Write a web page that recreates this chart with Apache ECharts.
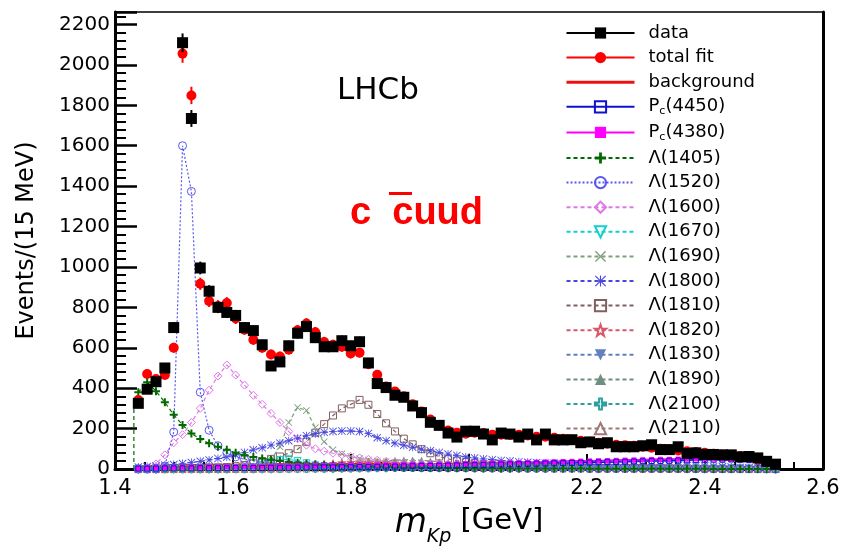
<!DOCTYPE html>
<html>
<head>
<meta charset="utf-8">
<title>m(Kp) fit components</title>
<script src="https://cdn.jsdelivr.net/npm/echarts@6/dist/echarts.min.js"></script>
<style>
  html, body { margin: 0; padding: 0; background: #fff; }
  #chart { width: 844px; height: 552px; }
</style>
</head>
<body>
<div id="chart"></div>
<script>
// Binning: 15 MeV bins starting at the K p threshold
const threshold = 1.432;
const binWidth = 0.015;

// Events per bin
const dataEvents = [325,395,432,500,700,2110,1735,995,880,800,
  775,760,700,685,615,510,530,610,672,705,
  650,605,605,635,610,630,525,423,403,365,
  355,312,279,231,216,178,158,187,187,173,
  144,178,173,158,173,144,173,144,144,145,
  130,134,125,130,110,110,110,115,120,96,
  96,110,77,80,72,72,70,70,60,62,
  55,38,24];

// Total fit projection
const totalFit = [341,470,445,465,600,2056,1849,917,831,807,
  822,745,690,640,600,567,557,591,687,720,
  677,629,615,605,572,576,519,466,408,384,
  360,320,285,245,215,190,180,175,180,178,
  170,170,168,170,166,160,160,155,150,145,
  140,135,130,125,120,118,115,110,105,100,
  96,92,88,84,80,76,72,68,64,58,
  50,40,25];

const background = [10,12,13,14,15,16,17,17,18,18,
  19,19,20,20,20,21,21,21,21,22,
  22,22,22,22,22,22,22,22,22,22,
  22,21,21,21,21,21,20,20,20,20,
  20,19,19,19,19,18,18,18,18,17,
  17,17,16,16,16,15,15,15,14,14,
  13,13,12,12,11,10,10,9,8,7,
  6,4,2];

const pc4450 = [2,2,2,3,3,3,3,4,4,4,
  4,5,5,5,5,6,6,6,7,7,
  7,8,8,9,9,10,10,11,12,12,
  13,14,15,15,16,17,18,19,19,20,
  21,22,23,24,25,26,27,28,29,30,
  31,32,33,34,35,36,37,38,39,40,
  41,42,43,44,45,46,46,47,46,44,
  38,26,10];

const pc4380 = [3,5,6,7,8,9,10,10,11,11,
  12,12,13,13,14,14,15,15,16,16,
  17,17,18,18,19,19,20,20,21,21,
  22,23,23,24,25,25,26,27,28,28,
  29,30,31,32,33,34,35,36,37,38,
  39,40,41,42,43,44,45,46,47,48,
  48,49,49,50,50,50,49,48,46,42,
  34,22,8];

// Lambda* contributions
const lam1405Edge = 320;   // value just above threshold
const lam1405 = [380,430,385,330,268,218,176,148,128,110,
  95,80,68,60,52,46,40,35,31,27,
  24,21,19,17,15,13,12,11,10,9,
  8,7,7,6,6,5,5,5,4,4,
  4,3,3,3,3,2,2,2,2,2,
  2,1,1,1,1,1,1,1,1,1,
  1,1,1,1,1,0,0,0,0,0,
  0,0,0];

const lam1520 = [0,0,0,15,183,1600,1374,380,192,115,
  80,60,48,40,34,29,25,22,20,18,
  16,14,13,12,11,10,9,9,8,8,
  7,7,6,6,6,5,5,5,5,4,
  4,4,4,4,3,3,3,3,3,3,
  3,2,2,2,2,2,2,2,2,2,
  2,2,1,1,1,1,1,1,1,1,
  1,1,0];

const lam1600 = [0,5,25,70,130,170,230,300,390,460,
  515,465,415,365,320,275,230,185,150,118,
  100,88,78,70,62,55,48,43,38,34,
  31,28,26,24,22,20,19,18,17,16,
  15,14,14,13,13,12,12,11,11,11,
  10,10,10,10,9,9,9,9,8,8,
  8,7,7,7,6,6,5,5,4,4,
  3,2,0];

const lam1670 = [0,0,0,0,0,0,0,1,1,1,
  2,2,3,8,18,32,45,48,40,28,
  18,12,9,7,6,5,4,4,3,3,
  3,3,2,2,2,2,2,2,2,2,
  1,1,1,1,1,1,1,1,1,1,
  1,1,1,1,1,1,1,1,1,1,
  1,1,1,1,1,1,0,0,0,0,
  0,0,0];

const lam1690 = [0,0,0,0,0,1,1,1,1,2,
  2,4,6,10,20,50,110,230,305,290,
  205,135,95,75,62,52,45,40,36,33,
  30,28,26,24,22,20,18,17,15,14,
  13,12,11,10,10,9,9,8,8,7,
  7,6,6,6,5,5,5,4,4,4,
  3,3,3,3,2,2,2,2,1,1,
  1,0,0];

const lam1800 = [10,12,15,18,22,27,32,38,45,52,
  60,70,82,95,105,118,128,140,152,165,
  175,182,186,188,188,185,176,155,140,128,
  118,108,98,90,82,74,67,60,55,50,
  46,42,39,36,33,31,29,28,26,25,
  24,23,22,22,21,21,20,20,19,19,
  18,18,17,16,15,14,12,10,8,6,
  4,2,0];

const lam1810 = [2,2,3,3,4,5,5,6,7,8,
  10,14,20,28,38,50,62,78,98,135,
  180,222,265,300,320,342,318,272,226,186,
  150,122,98,78,62,50,42,35,30,26,
  22,19,17,15,13,12,11,10,9,9,
  8,8,7,7,6,6,6,5,5,5,
  4,4,4,3,3,3,2,2,2,1,
  1,0,0];

const lam1820 = [0,0,0,0,0,1,1,1,2,2,
  2,3,3,4,5,6,8,10,12,15,
  18,22,26,30,33,35,34,32,29,26,
  23,20,18,16,14,12,11,10,9,8,
  7,7,6,6,5,5,5,4,4,4,
  4,3,3,3,3,3,3,2,2,2,
  2,2,2,2,2,1,1,1,1,1,
  1,0,0];

const lam1830 = [0,0,0,0,0,0,1,1,1,1,
  2,2,3,3,4,5,6,7,9,11,
  13,15,17,19,20,21,21,20,19,17,
  15,13,12,10,9,8,7,6,6,5,
  5,4,4,4,3,3,3,3,2,2,
  2,2,2,2,2,1,1,1,1,1,
  1,1,1,1,1,1,1,1,0,0,
  0,0,0];

const lam1890 = [0,0,0,0,1,1,1,1,2,2,
  2,3,3,4,4,5,6,7,8,10,
  12,14,17,20,24,28,32,36,40,43,
  45,45,43,40,36,32,28,24,21,18,
  16,14,12,11,10,9,8,7,7,6,
  6,5,5,5,4,4,4,3,3,3,
  3,2,2,2,2,2,1,1,1,1,
  1,0,0];

const lam2100 = [0,0,0,0,0,0,0,0,0,0,
  0,1,1,1,1,1,2,2,2,2,
  3,3,3,4,4,5,5,6,6,7,
  8,9,10,11,12,13,14,15,16,17,
  18,19,20,20,20,19,18,17,16,15,
  14,13,12,11,10,9,8,8,7,7,
  6,6,5,5,4,4,3,3,3,2,
  2,1,0];

const lam2110 = [0,0,0,0,0,0,0,0,0,0,
  1,1,1,1,2,2,2,3,3,3,
  4,4,5,5,6,7,8,9,10,11,
  12,14,15,17,18,20,21,22,23,24,
  25,25,25,25,24,23,22,21,20,19,
  18,17,16,15,14,13,12,11,10,9,
  8,7,7,6,5,5,4,3,3,2,
  2,1,0];

// Axis tick labels
const xTickLabels = ['1.4', '1.6', '1.8', '2', '2.2', '2.4', '2.6'];
const yTickLabels = ['0','200','400','600','800','1000','1200','1400','1600','1800','2000','2200'];

// Bin centres
const mass = dataEvents.map((_, i) => +(threshold + binWidth * (i + 0.5)).toFixed(4));
const pairs = (vals) => vals.map((v, i) => [mass[i], v]);

// Marker shapes
const SYM = {
  plus: 'path://M3,0H5V3H8V5H5V8H3V5H0V3H3Z',
  xmark: 'path://M0,0.7L0.7,0L4,3.3L7.3,0L8,0.7L4.7,4L8,7.3L7.3,8L4,4.7L0.7,8L0,7.3L3.3,4Z',
  aster: 'path://M3.6,0H4.4V8H3.6Z M0,3.6H8V4.4H0Z M0.6,0L8,7.4L7.4,8L0,0.6Z M7.4,0L8,0.6L0.6,8L0,7.4Z',
  star: 'path://M4,0L5,3H8L5.6,4.9L6.5,8L4,6.1L1.5,8L2.4,4.9L0,3H3Z'
};

const FONT = 'DejaVu Sans';
const CLEAR = 'rgba(0,0,0,0)';

function component(name, vals, color, symbol, opts) {
  opts = opts || {};
  const open = !!opts.open;
  return {
    type: 'line',
    name: name,
    data: opts.data || pairs(vals),
    symbol: symbol,
    symbolSize: opts.size || 7,
    symbolRotate: opts.rotate || 0,
    lineStyle: { color: color, width: 1.2, type: opts.dash || [4, 3] },
    itemStyle: open
      ? { color: CLEAR, borderColor: color, borderWidth: 1 }
      : { color: color },
    z: 2,
    animation: false,
    silent: true
  };
}

const lam1405Data = [
  { value: [threshold, 0], symbol: 'none' },
  { value: [threshold, lam1405Edge], symbol: 'none' }
].concat(pairs(lam1405));

function errorBars(vals, color, z) {
  return {
    type: 'custom',
    silent: true,
    z: z,
    animation: false,
    renderItem: function (params, api) {
      const x = api.value(0), y = api.value(1);
      const e = Math.sqrt(y);   // Poisson uncertainty of the bin count
      const a = api.coord([x, y - e]);
      const b = api.coord([x, y + e]);
      return {
        type: 'line',
        shape: { x1: a[0], y1: a[1], x2: b[0], y2: b[1] },
        style: { stroke: color, lineWidth: 2 }
      };
    },
    data: pairs(vals)
  };
}

const series = [
  component('Λ(2110)', lam2110, '#a07878', 'triangle', { open: true }),
  component('Λ(2100)', lam2100, '#2aa0a0', SYM.plus, { open: true, size: 8 }),
  component('Λ(1890)', lam1890, '#6f8f80', 'triangle'),
  component('Λ(1830)', lam1830, '#6080c0', 'triangle', { rotate: 180 }),
  component('Λ(1820)', lam1820, '#d85868', SYM.star, { open: true, size: 8 }),
  component('Λ(1810)', lam1810, '#806060', 'rect', { open: true }),
  component('Λ(1800)', lam1800, '#4848e0', SYM.aster, { size: 8 }),
  component('Λ(1690)', lam1690, '#7fa07f', SYM.xmark),
  component('Λ(1670)', lam1670, '#10d0d0', 'triangle', { open: true, rotate: 180 }),
  component('Λ(1600)', lam1600, '#e078e8', 'diamond', { open: true, size: 8 }),
  component('Λ(1520)', lam1520, '#5858f0', 'circle', { open: true, size: 8, dash: [2, 2] }),
  component('Λ(1405)', lam1405, '#006a00', SYM.plus, { data: lam1405Data, size: 8 }),
  {
    type: 'line', name: 'P_c(4380)', data: pairs(pc4380),
    symbol: 'rect', symbolSize: 5,
    lineStyle: { color: '#ff00ff', width: 2 },
    itemStyle: { color: '#ff00ff' },
    z: 2, animation: false, silent: true
  },
  {
    type: 'line', name: 'P_c(4450)', data: pairs(pc4450),
    symbol: 'rect', symbolSize: 5,
    lineStyle: { color: '#1010d0', width: 1.5 },
    itemStyle: { color: CLEAR, borderColor: '#1010d0', borderWidth: 1 },
    areaStyle: { color: 'rgba(90,90,200,0.10)' },
    z: 2, animation: false, silent: true
  },
  {
    type: 'line', name: 'background', data: pairs(background),
    symbol: 'none',
    lineStyle: { color: '#ee1010', width: 3 },
    itemStyle: { color: '#ee1010' },
    z: 2, animation: false, silent: true
  },
  errorBars(totalFit, '#ff0000', 3),
  {
    type: 'line', name: 'total fit', data: pairs(totalFit),
    symbol: 'circle', symbolSize: 10,
    lineStyle: { color: '#ff0000', opacity: 0 },
    itemStyle: { color: '#ff0000' },
    z: 3, animation: false, silent: true
  },
  errorBars(dataEvents, '#000000', 4),
  {
    type: 'line', name: 'data', data: pairs(dataEvents),
    symbol: 'rect', symbolSize: 11,
    lineStyle: { color: '#000', opacity: 0 },
    itemStyle: { color: '#000' },
    z: 4, animation: false, silent: true
  }
];

const legendOrder = ['data', 'total fit', 'background', 'P_c(4450)', 'P_c(4380)',
  'Λ(1405)', 'Λ(1520)', 'Λ(1600)', 'Λ(1670)', 'Λ(1690)', 'Λ(1800)', 'Λ(1810)',
  'Λ(1820)', 'Λ(1830)', 'Λ(1890)', 'Λ(2100)', 'Λ(2110)'];

const legendData = legendOrder.map(function (n) {
  if (n === 'data' || n === 'total fit') {
    return { name: n, lineStyle: { opacity: 1, width: 2 } };
  }
  if (n === 'background') {
    return { name: n, itemStyle: { opacity: 0 }, lineStyle: { width: 3 } };
  }
  return { name: n };
});

const yMax = 2262;

const option = {
  backgroundColor: '#fff',
  animation: false,
  grid: {
    left: 115, right: 21, top: 12, bottom: 66,
    show: true, borderColor: '#000', borderWidth: 1.5, backgroundColor: 'transparent'
  },
  legend: {
    orient: 'vertical',
    left: 565, top: 24, padding: 0,
    itemWidth: 68, itemHeight: 14, itemGap: 6.6,
    data: legendData,
    selectedMode: false,
    formatter: function (name) {
      if (name.indexOf('P_c') === 0) return '{a|P}{b|c}{a|' + name.slice(3) + '}';
      return name;
    },
    textStyle: {
      fontFamily: FONT, fontSize: 18, color: '#000', lineHeight: 18,
      padding: [0, 0, 0, 9],
      rich: {
        a: { fontFamily: FONT, fontSize: 18, lineHeight: 18, color: '#000', verticalAlign: 'top' },
        b: { fontFamily: FONT, fontSize: 11, lineHeight: 11, color: '#000', verticalAlign: 'top', padding: [8, 0, 0, 0] }
      }
    }
  },
  xAxis: [{
    type: 'value', min: 1.4, max: 2.6, interval: 0.2,
    axisLine: { show: true, onZero: false, lineStyle: { color: '#000', width: 3 } },
    axisTick: { show: true, inside: true, length: 15, lineStyle: { color: '#000', width: 2 } },
    minorTick: { show: true, splitNumber: 4, length: 7, lineStyle: { color: '#000', width: 2 } },
    splitLine: { show: false },
    axisLabel: {
      margin: 9, fontFamily: FONT, fontSize: 21, color: '#000',
      formatter: function (v) { return xTickLabels[Math.round((v - 1.4) / 0.2)]; }
    },
    name: '{m|m}{k|Kp}{g| [GeV]}',
    nameLocation: 'middle', nameGap: 38,
    nameTextStyle: {
      rich: {
        m: { fontFamily: FONT, fontStyle: 'italic', fontSize: 33, lineHeight: 34, color: '#000', verticalAlign: 'top' },
        k: { fontFamily: FONT, fontStyle: 'italic', fontSize: 19, lineHeight: 19, color: '#000', verticalAlign: 'top', padding: [21, 0, 0, 0] },
        g: { fontFamily: FONT, fontSize: 29, lineHeight: 34, color: '#000', verticalAlign: 'top' }
      }
    }
  }],
  yAxis: [{
    type: 'value', min: 0, max: yMax, interval: 200,
    axisLine: { show: true, onZero: false, lineStyle: { color: '#000', width: 3 } },
    axisTick: { show: true, inside: true, length: 22, lineStyle: { color: '#000', width: 2.5 } },
    minorTick: { show: true, splitNumber: 5, length: 11, lineStyle: { color: '#000', width: 2 } },
    splitLine: { show: false },
    axisLabel: {
      margin: 5, fontFamily: FONT, fontSize: 20, color: '#000', showMaxLabel: false,
      formatter: function (v) { return yTickLabels[Math.round(v / 200)] || ''; }
    },
    name: 'Events/(15 MeV)',
    nameLocation: 'middle', nameGap: 76,
    nameTextStyle: { fontFamily: FONT, fontSize: 24, color: '#000' }
  }, {
    type: 'value', min: 0, max: yMax, position: 'right',
    axisLine: { show: true, onZero: false, lineStyle: { color: '#000', width: 3 } },
    axisTick: { show: false }, axisLabel: { show: false }, splitLine: { show: false }
  }],
  graphic: [
    { type: 'text', left: 337, top: 75, silent: true,
      style: { text: 'LHCb', fontFamily: FONT, fontSize: 31, fill: '#000' } },
    { type: 'text', left: 350, top: 195, silent: true,
      style: { text: 'c  cuud', fontFamily: 'Liberation Sans', fontWeight: 'bold', fontSize: 38, fill: '#ff0000' } },
    { type: 'line', silent: true,
      shape: { x1: 389, y1: 193.5, x2: 412, y2: 193.5 },
      style: { stroke: '#ff0000', lineWidth: 3 } }
  ],
  series: series
};

const chart = echarts.init(document.getElementById('chart'), null, { renderer: 'canvas' });
chart.setOption(option);
</script>
</body>
</html>
